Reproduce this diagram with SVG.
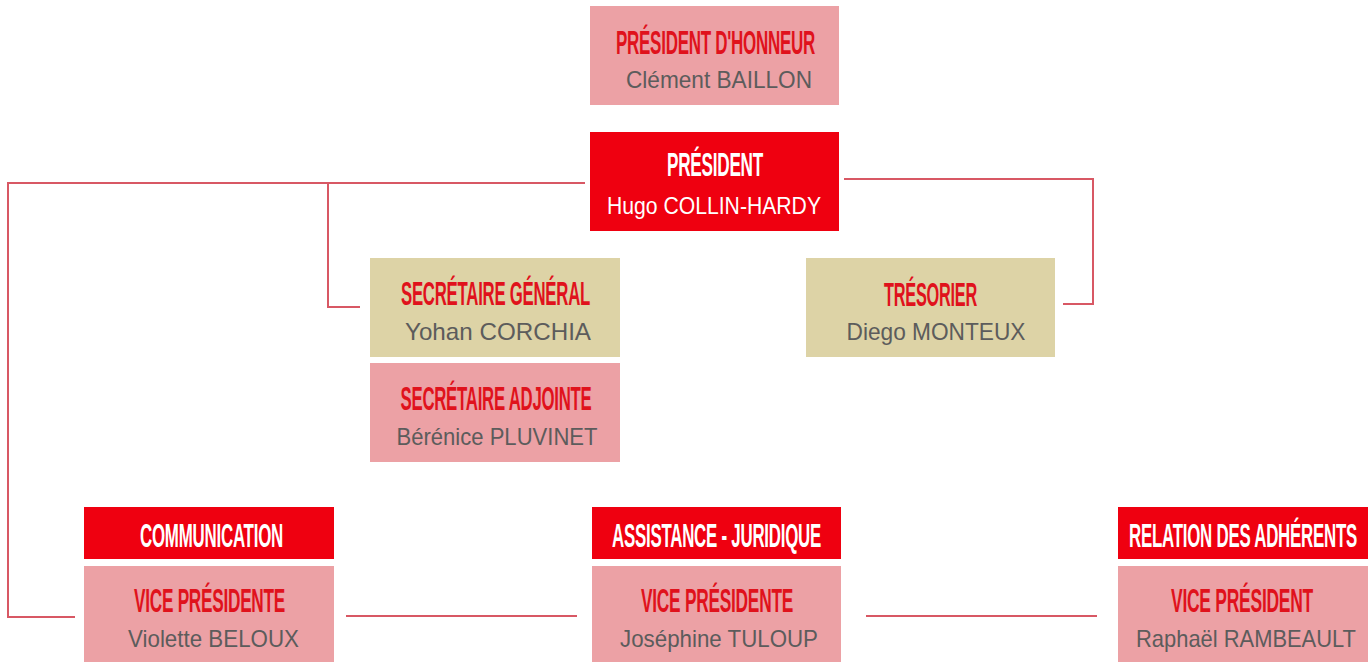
<svg xmlns="http://www.w3.org/2000/svg" width="1372" height="662" viewBox="0 0 1372 662">
<style>
.red{fill:#EF0010}
.pink{fill:#ECA1A5}
.tan{fill:#DDD3A6}
.t{font-family:"Liberation Sans Narrow","Liberation Sans",Arial,sans-serif;font-weight:bold;font-size:34px;text-anchor:middle;letter-spacing:-0.5px}
.tr{fill:#E0121C}
.tw{fill:#FFFFFF}
.n{font-family:"Liberation Sans",Arial,sans-serif;font-size:24px;text-anchor:middle}
.ng{fill:#5C5C5C}
.nw{fill:#FFFFFF}
.c{fill:none;stroke:#D85864;stroke-width:2}
</style>
<rect width="1372" height="662" fill="#FFFFFF"/>
<g id="connectors">
<path class="c" d="M585,183 H8 V617 H75"/>
<path class="c" d="M328,183 V307 H360"/>
<path class="c" d="M844,179 H1093 V304 H1063"/>
<path class="c" d="M346,616 H577"/>
<path class="c" d="M866,616 H1097"/>
</g>
<g id="president-honneur">
<rect class="pink" x="590" y="6" width="249" height="99"/>
<text class="t tr" x="715.5" y="54" textLength="199" lengthAdjust="spacingAndGlyphs">PRÉSIDENT D'HONNEUR</text>
<text class="n ng" x="719" y="88" textLength="186" lengthAdjust="spacingAndGlyphs">Clément BAILLON</text>
</g>
<g id="president">
<rect class="red" x="590" y="132" width="249" height="99"/>
<text class="t tw" x="715" y="176" textLength="96" lengthAdjust="spacingAndGlyphs">PRÉSIDENT</text>
<text class="n nw" x="714" y="214" textLength="214" lengthAdjust="spacingAndGlyphs">Hugo COLLIN-HARDY</text>
</g>
<g id="secretaire-general">
<rect class="tan" x="370" y="258" width="250" height="99"/>
<text class="t tr" x="495.5" y="305" textLength="189" lengthAdjust="spacingAndGlyphs">SECRÉTAIRE GÉNÉRAL</text>
<text class="n ng" x="498" y="340" textLength="186" lengthAdjust="spacingAndGlyphs">Yohan CORCHIA</text>
</g>
<g id="secretaire-adjointe">
<rect class="pink" x="370" y="363" width="250" height="99"/>
<text class="t tr" x="496" y="410" textLength="191" lengthAdjust="spacingAndGlyphs">SECRÉTAIRE ADJOINTE</text>
<text class="n ng" x="497" y="445" textLength="201" lengthAdjust="spacingAndGlyphs">Bérénice PLUVINET</text>
</g>
<g id="tresorier">
<rect class="tan" x="806" y="258" width="249" height="99"/>
<text class="t tr" x="930.5" y="306" textLength="93" lengthAdjust="spacingAndGlyphs">TRÉSORIER</text>
<text class="n ng" x="936" y="340" textLength="179" lengthAdjust="spacingAndGlyphs">Diego MONTEUX</text>
</g>
<g id="communication">
<rect class="red" x="84" y="507" width="250" height="52"/>
<text class="t tw" x="211.5" y="547" textLength="143" lengthAdjust="spacingAndGlyphs">COMMUNICATION</text>
<rect class="pink" x="84" y="566" width="250" height="96"/>
<text class="t tr" x="209.5" y="612" textLength="151" lengthAdjust="spacingAndGlyphs">VICE PRÉSIDENTE</text>
<text class="n ng" x="213.5" y="647" textLength="171" lengthAdjust="spacingAndGlyphs">Violette BELOUX</text>
</g>
<g id="assistance-juridique">
<rect class="red" x="592" y="507" width="249" height="52"/>
<text class="t tw" x="716.5" y="547" textLength="209" lengthAdjust="spacingAndGlyphs">ASSISTANCE - JURIDIQUE</text>
<rect class="pink" x="592" y="566" width="249" height="96"/>
<text class="t tr" x="717" y="612" textLength="152" lengthAdjust="spacingAndGlyphs">VICE PRÉSIDENTE</text>
<text class="n ng" x="719" y="647" textLength="198" lengthAdjust="spacingAndGlyphs">Joséphine TULOUP</text>
</g>
<g id="relation-adherents">
<rect class="red" x="1118" y="507" width="250" height="52"/>
<text class="t tw" x="1243" y="547" textLength="228" lengthAdjust="spacingAndGlyphs">RELATION DES ADHÉRENTS</text>
<rect class="pink" x="1118" y="566" width="250" height="96"/>
<text class="t tr" x="1242" y="612" textLength="142" lengthAdjust="spacingAndGlyphs">VICE PRÉSIDENT</text>
<text class="n ng" x="1246" y="647" textLength="220" lengthAdjust="spacingAndGlyphs">Raphaël RAMBEAULT</text>
</g>
</svg>
